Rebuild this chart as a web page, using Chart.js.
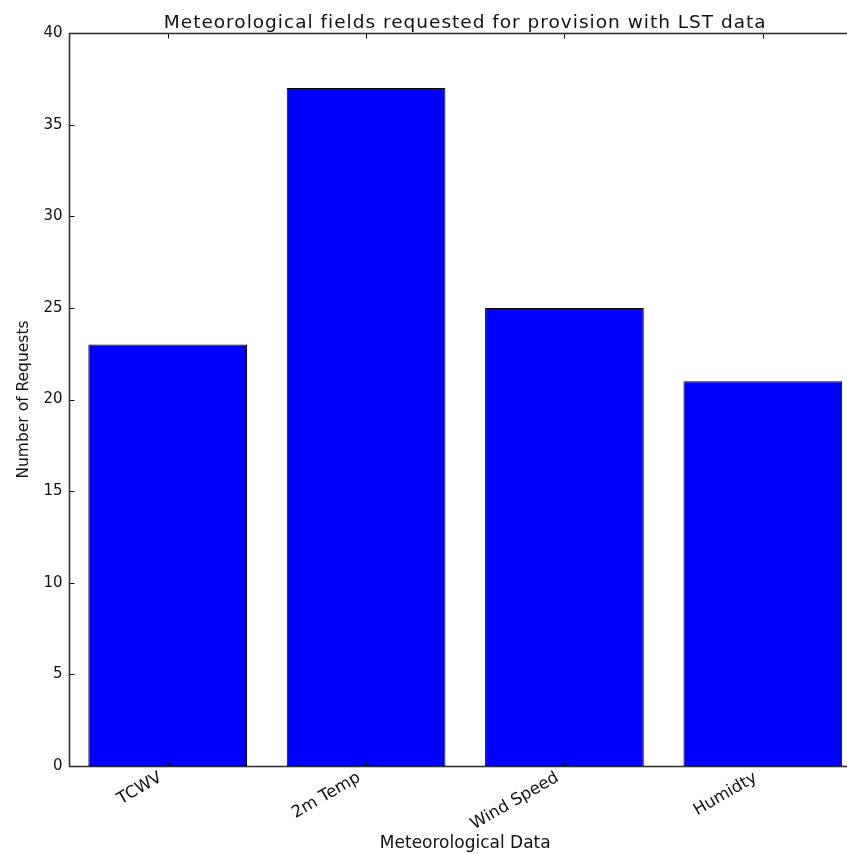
<!DOCTYPE html>
<html>
<head>
<meta charset="utf-8">
<script src="https://cdn.jsdelivr.net/npm/chart.js@4/dist/chart.umd.min.js"></script>
<style>
  html, body { margin: 0; padding: 0; background: #fff; }
  #wrap { width: 847px; height: 854px; overflow: hidden; position: relative; }
  canvas { display: block; }
</style>
</head>
<body>
<div id="wrap"><canvas id="c" width="862" height="854"></canvas></div>
<script>
// Requested meteorological fields and their request counts
const categories = ['TCWV', '2m Temp', 'Wind Speed', 'Humidty'];
const requests = [23, 37, 25, 21];
const yMin = 0, yMax = 40, yStep = 5;
const chartTitle = 'Meteorological fields requested for provision with LST data';

const FONT = "'DejaVu Sans', sans-serif";
const INK = '#111';

// Axes box with inward-pointing ticks on every side, plus the heading
const boxPlugin = {
  id: 'box',
  afterDatasetsDraw(chart) {
    const { ctx, chartArea: a, scales } = chart;
    const L = Math.round(a.left) + 0.5, R = Math.round(a.right) + 0.5;
    const T = Math.round(a.top) + 0.5, B = Math.round(a.bottom) + 0.5;
    ctx.save();
    ctx.strokeStyle = INK;
    ctx.lineWidth = 1;
    const tl = 5;
    ctx.beginPath();
    scales.x.ticks.forEach((t, i) => {
      const px = Math.round(scales.x.getPixelForTick(i)) + 0.5;
      ctx.moveTo(px, B); ctx.lineTo(px, B - tl);
      ctx.moveTo(px, T); ctx.lineTo(px, T + tl);
    });
    scales.y.ticks.forEach((t, i) => {
      const py = Math.round(scales.y.getPixelForTick(i)) + 0.5;
      ctx.moveTo(L, py); ctx.lineTo(L + tl, py);
      ctx.moveTo(R, py); ctx.lineTo(R - tl, py);
    });
    ctx.stroke();
    ctx.lineWidth = 1.6;
    ctx.strokeStyle = '#333';
    ctx.strokeRect(L, T, R - L, B - T);

    // heading above the axes
    ctx.fillStyle = INK;
    ctx.font = "18.5px " + FONT;
    ctx.letterSpacing = '1px';
    ctx.textAlign = 'center';
    ctx.textBaseline = 'alphabetic';
    ctx.fillText(chartTitle, (a.left + a.right) / 2, 28);
    ctx.restore();
  }
};

new Chart(document.getElementById('c'), {
  type: 'bar',
  data: {
    labels: categories,
    datasets: [{
      data: requests,
      backgroundColor: '#0000ff',
      borderColor: '#000',
      borderWidth: 1,
      borderSkipped: false,
      barPercentage: 0.8,
      categoryPercentage: 1.0
    }]
  },
  options: {
    responsive: false,
    animation: false,
    devicePixelRatio: 1,
    layout: { padding: { left: 0, right: 0, top: 33, bottom: 0 } },
    plugins: {
      legend: { display: false },
      tooltip: { enabled: false },
      title: { display: false }
    },
    scales: {
      x: {
        offset: true,
        grid: { display: false, drawTicks: false },
        border: { display: false },
        ticks: {
          color: INK,
          font: { family: FONT, size: 16.5 },
          maxRotation: 30,
          minRotation: 30,
          padding: 2,
          labelOffset: -7
        },
        title: {
          display: true,
          text: 'Meteorological Data',
          color: INK,
          font: { family: FONT, size: 17 },
          padding: { top: 0, bottom: 0 }
        },
        afterFit(s) { s.height = 88; }
      },
      y: {
        min: yMin,
        max: yMax,
        grid: { display: false, drawTicks: false },
        border: { display: false },
        ticks: {
          stepSize: yStep,
          color: INK,
          font: { family: FONT, size: 15 },
          padding: 6
        },
        title: {
          display: true,
          text: 'Number of Requests',
          color: INK,
          font: { family: FONT, size: 15.5 },
          padding: { top: 14.5, bottom: 0 }
        },
        afterFit(s) { s.width = 68.5; }
      }
    }
  },
  plugins: [boxPlugin]
});
</script>
</body>
</html>
